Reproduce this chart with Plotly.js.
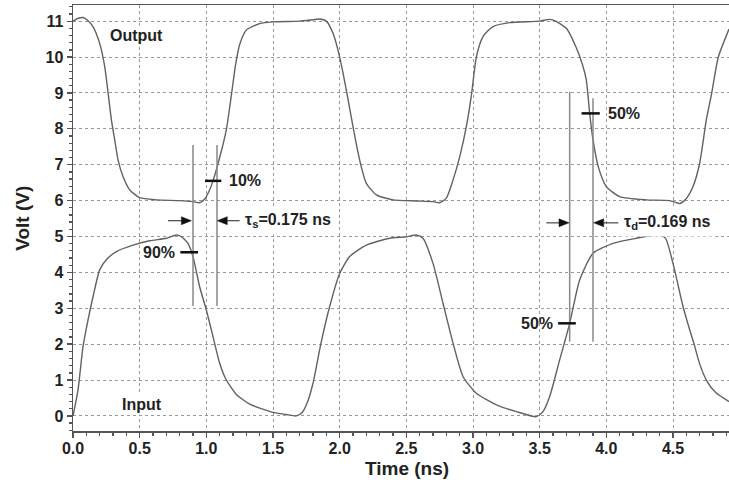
<!DOCTYPE html>
<html>
<head>
<meta charset="utf-8">
<script src="https://cdn.plot.ly/plotly-3.0.1.min.js"></script>
<style>html,body{margin:0;padding:0;background:#fff;}#chart{width:729px;height:483px;}</style>
</head>
<body>
<div id="chart"></div>
<script>
// Output waveform (ns, V)
const outputTime = [0.0,0.04,0.075,0.11,0.15,0.2,0.238,0.263,0.288,0.313,0.338,0.375,0.425,0.5,0.625,0.8,0.9,0.95,0.99,1.025,1.05,1.1,1.15,1.19,1.22,1.25,1.3,1.4,1.5,1.7,1.8,1.85,1.9,1.95,2.0,2.05,2.1,2.15,2.2,2.275,2.4,2.575,2.7,2.75,2.8,2.85,2.9,2.95,2.99,3.025,3.075,3.15,3.275,3.5,3.575,3.62,3.7,3.77,3.82,3.85,3.875,3.9,3.94,4.0,4.1,4.3,4.475,4.55,4.6,4.65,4.7,4.75,4.79,4.84,4.92];
const outputVolt = [11.0,11.08,11.1,11.02,10.85,10.38,9.73,9.0,8.25,7.69,7.13,6.67,6.3,6.08,6.02,6.0,5.97,5.94,6.05,6.3,6.55,7.2,7.97,9.0,9.8,10.35,10.75,10.93,10.98,11.0,11.04,11.06,11.0,10.66,10.0,9.08,8.06,7.13,6.48,6.16,6.02,5.99,5.97,5.94,6.07,6.57,7.22,8.06,8.99,10.0,10.57,10.85,10.96,11.0,11.05,11.0,10.8,10.3,9.8,9.36,8.43,7.69,6.94,6.39,6.11,6.02,6.0,5.92,6.06,6.39,7.04,8.25,8.99,10.0,10.78];
// Input waveform (ns, V)
const inputTime = [0.0,0.0375,0.075,0.1125,0.15,0.2,0.25,0.325,0.45,0.575,0.7,0.775,0.81,0.8625,0.9,0.95,1.0,1.05,1.1,1.15,1.225,1.325,1.5,1.6,1.675,1.72,1.76,1.8,1.86,1.925,2.0,2.075,2.2,2.375,2.5,2.575,2.625,2.7,2.775,2.85,2.925,3.025,3.175,3.325,3.475,3.525,3.575,3.65,3.725,3.8,3.9,4.05,4.225,4.375,4.44,4.5,4.575,4.625,4.66,4.7,4.75,4.82,4.92];
const inputVolt = [0.0,0.72,1.93,2.67,3.32,4.07,4.35,4.58,4.76,4.88,4.95,5.04,5.0,4.81,4.44,3.6,2.95,2.21,1.47,1.0,0.6,0.33,0.1,0.04,0.0,0.1,0.4,0.91,2.03,3.05,3.97,4.44,4.76,4.95,4.99,5.04,4.95,4.25,3.14,2.03,1.1,0.63,0.31,0.12,-0.02,0.12,0.54,1.56,2.58,3.79,4.53,4.81,4.95,5.04,4.97,4.25,3.05,2.4,1.98,1.45,1.0,0.65,0.4];

// Tick labels
const xTicks = [0.0,0.5,1.0,1.5,2.0,2.5,3.0,3.5,4.0,4.5];
const xTickLabels = ["0.0","0.5","1.0","1.5","2.0","2.5","3.0","3.5","4.0","4.5"];
const yTicks = [0,1,2,3,4,5,6,7,8,9,10,11];

// Measurement guides: vertical lines
const guideTime = [0.9, 1.08, 3.725, 3.9];
const guideBottom = [3.06, 3.06, 2.07, 2.07];
const guideTop = [7.55, 7.55, 9.03, 8.85];
// Level markers
const markStart = [0.99, 0.805, 3.814, 3.638];
const markEnd = [1.113, 0.938, 3.951, 3.771];
const markVolt = [6.55, 4.56, 8.43, 2.58];
const markLabel = ["10%", "90%", "50%", "50%"];
// Delay arrows
const arrowTip = [0.888, 1.082, 3.72, 3.905];
const arrowTail = [0.713, 1.25, 3.55, 4.09];
const arrowVolt = [5.44, 5.44, 5.38, 5.38];
const delayLabel = ["τ<sub>s</sub>=0.175 ns", "τ<sub>d</sub>=0.169 ns"];
const delayTime = [1.255, 4.095];
const delayVolt = [5.44, 5.38];
const curveLabel = ["Output", "Input"];
const curveLabelTime = [0.478, 0.52];
const curveLabelVolt = [10.6, 0.31];

const X_RANGE = [0, 4.92], Y_RANGE = [-0.42, 11.45];
const M = {l: 73, r: 0, t: 5, b: 52};
const plotW = 729 - M.l - M.r, plotH = 483 - M.t - M.b;
const nsPerPx = (X_RANGE[1] - X_RANGE[0]) / plotW;
const vPerPx = (Y_RANGE[1] - Y_RANGE[0]) / plotH;

const fontFam = "Liberation Sans, Arial, sans-serif";
const traces = [
  {x: outputTime, y: outputVolt, mode: "lines", line: {color: "#626262", width: 1.4, shape: "spline", smoothing: 0.6}, hoverinfo: "skip"},
  {x: inputTime, y: inputVolt, mode: "lines", line: {color: "#626262", width: 1.4, shape: "spline", smoothing: 0.6}, hoverinfo: "skip"}
];

const shapes = [];
for (let i = 0; i < guideTime.length; i++) {
  shapes.push({type: "line", xref: "x", yref: "y", x0: guideTime[i], x1: guideTime[i], y0: guideBottom[i], y1: guideTop[i], line: {color: "#888", width: 1.5}});
}
for (let i = 0; i < markStart.length; i++) {
  shapes.push({type: "line", xref: "x", yref: "y", x0: markStart[i], x1: markEnd[i], y0: markVolt[i], y1: markVolt[i], line: {color: "#111", width: 2.5}});
}
// Arrows: shaft + filled head
for (let i = 0; i < arrowTip.length; i++) {
  const dir = Math.sign(arrowTip[i] - arrowTail[i]);
  const headLen = 10 * nsPerPx, headHalf = 4 * vPerPx;
  const base = arrowTip[i] - dir * headLen;
  shapes.push({type: "line", xref: "x", yref: "y", x0: arrowTail[i], x1: base, y0: arrowVolt[i], y1: arrowVolt[i], line: {color: "#444", width: 1.2}});
  shapes.push({type: "path", xref: "x", yref: "y",
    path: `M ${arrowTip[i]} ${arrowVolt[i]} L ${base} ${arrowVolt[i] + headHalf} L ${base} ${arrowVolt[i] - headHalf} Z`,
    fillcolor: "#111", line: {color: "#111", width: 0.5}});
}

const annotations = [];
const lblSide = ["left", "right", "left", "right"];
for (let i = 0; i < markLabel.length; i++) {
  const left = lblSide[i] === "left";
  annotations.push({x: left ? markEnd[i] : markStart[i], y: markVolt[i], xref: "x", yref: "y", text: markLabel[i], showarrow: false,
    xanchor: left ? "left" : "right", xshift: left ? 6 : -3, font: {family: fontFam, size: 16, color: "#222", weight: "bold"}});
}
for (let i = 0; i < delayLabel.length; i++) {
  annotations.push({x: delayTime[i], y: delayVolt[i], xref: "x", yref: "y", text: delayLabel[i], showarrow: false, xanchor: "left",
    bgcolor: "#fff", borderpad: 4, font: {family: fontFam, size: 16, color: "#222", weight: "bold"}});
}
for (let i = 0; i < curveLabel.length; i++) {
  annotations.push({x: curveLabelTime[i], y: curveLabelVolt[i], xref: "x", yref: "y", text: curveLabel[i], showarrow: false,
    bgcolor: "#fff", borderpad: 1, font: {family: fontFam, size: 16, color: "#222", weight: "bold"}});
}
// Axis titles
annotations.push({xref: "paper", yref: "paper", x: 0.509, y: -0.089, text: "Time (ns)", showarrow: false, xanchor: "center", yanchor: "middle",
  font: {family: fontFam, size: 19, color: "#222", weight: "bold"}});
annotations.push({xref: "paper", yref: "paper", x: -0.078, y: 0.5, text: "Volt (V)", showarrow: false, textangle: -90, xanchor: "center", yanchor: "middle",
  font: {family: fontFam, size: 19, color: "#222", weight: "bold"}});

const axisCommon = {
  showgrid: true, gridcolor: "#999", griddash: "dot", gridwidth: 1,
  zeroline: false, showline: true, linecolor: "#555", linewidth: 1.5,
  ticks: "outside", ticklen: 5, tickwidth: 1.3, tickcolor: "#555",
  tickfont: {family: fontFam, size: 16, color: "#222", weight: "bold"}
};

const layout = {
  width: 729, height: 483,
  margin: M,
  paper_bgcolor: "#fff", plot_bgcolor: "#fff",
  showlegend: false,
  xaxis: Object.assign({}, axisCommon, {range: X_RANGE, tickvals: xTicks, ticktext: xTickLabels, mirror: true, ticklabelstandoff: -3,
    minor: {dtick: 0.1, tick0: 0, ticks: "outside", ticklen: 3, tickcolor: "#555", showgrid: false}}),
  yaxis: Object.assign({}, axisCommon, {range: Y_RANGE, tickvals: yTicks,
    minor: {dtick: 0.2, tick0: 0, ticks: "outside", ticklen: 3, tickcolor: "#555", showgrid: false}}),
  shapes: shapes,
  annotations: annotations
};

Plotly.newPlot("chart", traces, layout, {staticPlot: true, displayModeBar: false});
</script>
</body>
</html>
